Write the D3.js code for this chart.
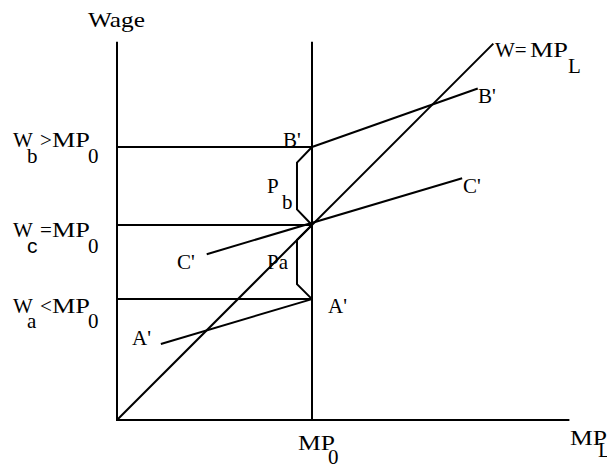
<!DOCTYPE html>
<html>
<head>
<meta charset="utf-8">
<script src="https://cdn.jsdelivr.net/npm/d3@7"></script>
<style>
  body { margin: 0; background: #fff; }
</style>
</head>
<body>
<div id="chart"></div>
<script>
//////////////////////////////////////////////////////////////////////////////
// Data (in wage / marginal-product units)

var mp0 = 10;
var xMax = 23.2;
var yMax = 19.4;
var wageSubs   = ["b", "c", "a"];
var wageOps    = [">", "=", "<"];
var wageValues = [14, 10, 6.2];

var wmplLine  = [[0, 0], [19.3, 19.3]];
var bLine     = [[10, 14], [18.5, 17.0]];
var cLine     = [[4.6, 8.5], [17.7, 12.4]];
var aLine     = [[2.25, 3.9], [10, 6.2]];
var pbBracket = [[10, 14], [9.23, 13.2], [9.23, 10.8], [10, 10]];
var paBracket = [[10, 10], [9.23, 9.23], [9.23, 6.97], [10, 6.2]];

//////////////////////////////////////////////////////////////////////////////

var width = 607, height = 466;

var xScale = d3.scaleLinear().domain([0, 10]).range([117, 312]);
var yScale = d3.scaleLinear().domain([0, 10]).range([420, 225]);

var svg = d3.select("#chart")
    .append("svg")
    .attr("width", width)
    .attr("height", height);

var line = d3.line()
    .x(function(d) { return xScale(d[0]); })
    .y(function(d) { return yScale(d[1]); });

function drawPath(pts) {
    return svg.append("path")
        .attr("d", line(pts))
        .attr("fill", "none")
        .attr("stroke", "#000")
        .attr("stroke-width", 2)
        .attr("stroke-linejoin", "miter");
}

// axes and MP0 vertical
drawPath([[0, yMax], [0, 0], [xMax, 0]]);
drawPath([[mp0, yMax], [mp0, 0]]);

// wage level horizontals
wageValues.forEach(function(w) { drawPath([[0, w], [mp0, w]]); });

[wmplLine, bLine, cLine, aLine, pbBracket, paBracket].forEach(drawPath);

//////////////////////////////////////////////////////////////////////////////
// Labels

function txt(x, y, s, len) {
    var t = svg.append("text")
        .attr("x", x)
        .attr("y", y)
        .attr("fill", "#000")
        .style("font-family", "'Liberation Serif'")
        .style("font-size", "21px")
        .text(s);
    if (len) t.attr("textLength", len).attr("lengthAdjust", "spacingAndGlyphs");
    return t;
}

txt(88, 27, "Wage", 57);

var mainBase = [147, 237, 313];
var subBase  = [163, 253, 328];
wageSubs.forEach(function(s, i) {
    txt(13, mainBase[i], "W");
    var st = txt(27, subBase[i], s);
    if (s === "c") st.style("font-family", "'Liberation Sans'");
    txt(40, mainBase[i], wageOps[i]);
    txt(52, mainBase[i], "MP", 38);
    txt(88, subBase[i], "0");
});

txt(283, 147, "B'");
txt(267, 193, "P");
txt(282, 209, "b");
txt(267, 269, "Pa");
txt(328, 313, "A'");
txt(132, 345, "A'");
txt(177, 269, "C'");
txt(463, 193, "C'");
txt(478, 103, "B'");

txt(495, 57, "W=");
txt(530, 57, "MP", 38);
txt(568, 73, "L");

txt(298, 450, "MP", 37);
txt(328, 464, "0");

txt(570, 445, "MP", 37);
txt(598, 457, "L");
</script>
</body>
</html>
